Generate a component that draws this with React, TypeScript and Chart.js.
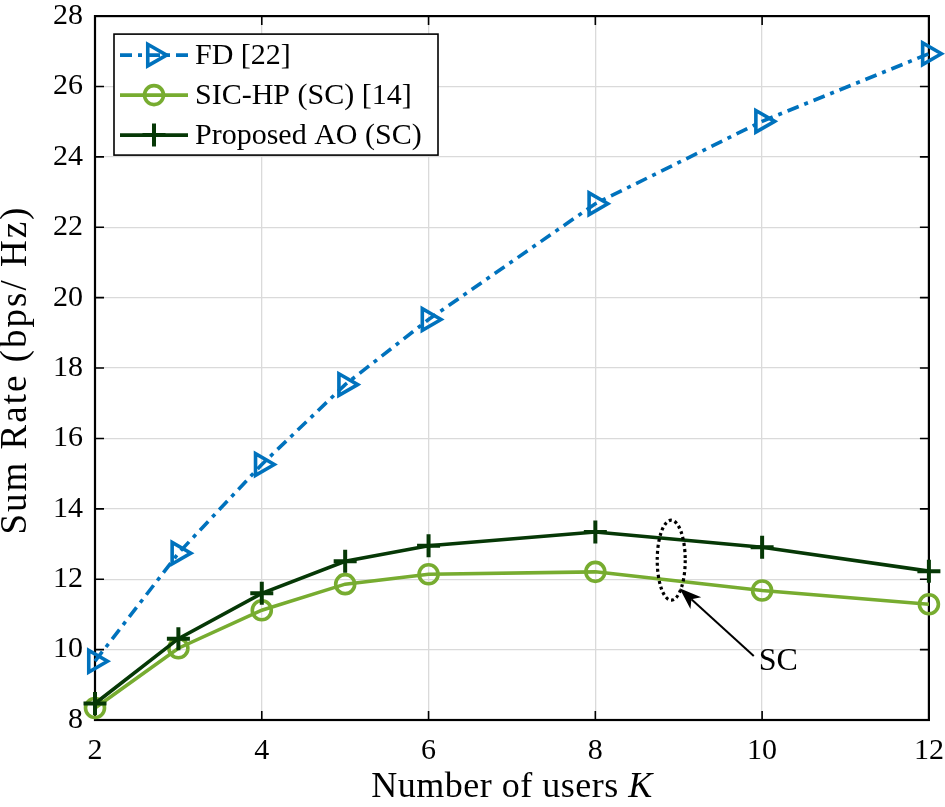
import React, { useEffect, useRef } from 'react';
import { Chart, registerables } from 'chart.js';
import { drawPoint } from 'chart.js/helpers';

Chart.register(...registerables);

// ---------- data ----------
const USERS = [2, 3, 4, 5, 6, 8, 10, 12];
const FD = [9.67, 12.74, 15.26, 17.53, 19.38, 22.67, 25.01, 26.93];
const SIC_HP = [8.34, 10.04, 11.12, 11.86, 12.14, 12.21, 11.68, 11.29];
const PROPOSED = [8.47, 10.31, 11.6, 12.51, 12.95, 13.34, 12.91, 12.23];

const SERIES_LABELS = ['FD [22]', 'SIC-HP (SC) [14]', 'Proposed AO (SC)'];
const X_TICKS = [2, 4, 6, 8, 10, 12];
const Y_TICKS = [8, 10, 12, 14, 16, 18, 20, 22, 24, 26, 28];
const X_TITLE = 'Number of users ';
const X_TITLE_VAR = 'K';
const Y_TITLE = 'Sum Rate (bps/ Hz)';

const ANNOT_LABEL = 'SC';
const ANNOT_ELLIPSE_CENTER = [8.91, 12.54];
const ANNOT_ARROW_FROM = [9.9, 9.82];
const ANNOT_ARROW_TO = [9.01, 11.74];
const ANNOT_TEXT_POS = [9.96, 9.65];

// ---------- styles ----------
const FONT = '"Liberation Serif", "Times New Roman", serif';
const C_FD = '#0072BD';
const C_SIC = '#77AC30';
const C_PROP = '#063806';

const toPts = (ys: number[]) => USERS.map((x, i) => ({ x, y: ys[i] }));

const framePlugin = {
  id: 'matlabFrame',
  beforeDatasetsDraw(chart: any) {
    const { ctx, chartArea: a, scales } = chart;
    const L = 9;
    ctx.save();
    ctx.strokeStyle = '#000';
    ctx.lineWidth = 1.6;
    ctx.beginPath();
    scales.x.ticks.forEach((t: any) => {
      const px = scales.x.getPixelForValue(t.value);
      ctx.moveTo(px, a.bottom);
      ctx.lineTo(px, a.bottom - L);
      ctx.moveTo(px, a.top);
      ctx.lineTo(px, a.top + L);
    });
    scales.y.ticks.forEach((t: any) => {
      const py = scales.y.getPixelForValue(t.value);
      ctx.moveTo(a.left, py);
      ctx.lineTo(a.left + L, py);
      ctx.moveTo(a.right, py);
      ctx.lineTo(a.right - L, py);
    });
    ctx.stroke();
    ctx.lineWidth = 2.2;
    ctx.strokeRect(a.left, a.top, a.right - a.left, a.bottom - a.top);
    ctx.restore();
  },
};

const titlesPlugin = {
  id: 'axisTitles',
  afterDraw(chart: any) {
    const { ctx, chartArea: a } = chart;
    ctx.save();
    ctx.fillStyle = '#000';
    (ctx as any).letterSpacing = '0.5px';
    ctx.textBaseline = 'alphabetic';
    ctx.textAlign = 'left';
    ctx.font = `36px ${FONT}`;
    const w1 = ctx.measureText(X_TITLE).width;
    ctx.font = `italic 36px ${FONT}`;
    const w2 = ctx.measureText(X_TITLE_VAR).width;
    const cx = (a.left + a.right) / 2;
    const sx = cx - (w1 + w2) / 2;
    ctx.font = `36px ${FONT}`;
    ctx.fillText(X_TITLE, sx, 797);
    ctx.font = `italic 36px ${FONT}`;
    ctx.fillText(X_TITLE_VAR, sx + w1, 797);
    (ctx as any).letterSpacing = '2px';
    ctx.font = `37px ${FONT}`;
    ctx.translate(26, (a.top + a.bottom) / 2 + 2);
    ctx.rotate(-Math.PI / 2);
    ctx.textAlign = 'center';
    ctx.fillText(Y_TITLE, 0, 0);
    (ctx as any).letterSpacing = '0px';
    ctx.restore();
  },
};

const annotationPlugin = {
  id: 'scAnnotation',
  afterDatasetsDraw(chart: any) {
    const { ctx, scales } = chart;
    const px = (v: number) => scales.x.getPixelForValue(v);
    const py = (v: number) => scales.y.getPixelForValue(v);
    ctx.save();
    ctx.strokeStyle = '#000';
    ctx.lineWidth = 3.2;
    ctx.setLineDash([3, 3]);
    ctx.beginPath();
    ctx.ellipse(px(ANNOT_ELLIPSE_CENTER[0]), py(ANNOT_ELLIPSE_CENTER[1]), 14, 40, 0, 0, Math.PI * 2);
    ctx.stroke();
    ctx.setLineDash([]);
    const tx = px(ANNOT_ARROW_FROM[0]), ty = py(ANNOT_ARROW_FROM[1]);
    const hx = px(ANNOT_ARROW_TO[0]), hy = py(ANNOT_ARROW_TO[1]);
    const ang = Math.atan2(hy - ty, hx - tx);
    const len = 22, hw = 8;
    const bx = hx - len * Math.cos(ang), by = hy - len * Math.sin(ang);
    ctx.lineWidth = 2;
    ctx.beginPath();
    ctx.moveTo(tx, ty);
    ctx.lineTo(bx + 6 * Math.cos(ang), by + 6 * Math.sin(ang));
    ctx.stroke();
    ctx.fillStyle = '#000';
    ctx.beginPath();
    ctx.moveTo(hx, hy);
    ctx.lineTo(bx - hw * Math.sin(ang), by + hw * Math.cos(ang));
    ctx.lineTo(bx + 6 * Math.cos(ang), by + 6 * Math.sin(ang));
    ctx.lineTo(bx + hw * Math.sin(ang), by - hw * Math.cos(ang));
    ctx.closePath();
    ctx.fill();
    ctx.font = `32px ${FONT}`;
    ctx.textAlign = 'left';
    ctx.textBaseline = 'middle';
    ctx.fillText(ANNOT_LABEL, px(ANNOT_TEXT_POS[0]), py(ANNOT_TEXT_POS[1]));
    ctx.restore();
  },
};

const legendPlugin = {
  id: 'boxLegend',
  afterDraw(chart: any) {
    const { ctx, chartArea: a } = chart;
    const left = a.left + 19, top = a.top + 18, w = 324, h = 121, rowH = 40;
    ctx.save();
    ctx.fillStyle = '#fff';
    ctx.fillRect(left, top, w, h);
    ctx.strokeStyle = '#000';
    ctx.lineWidth = 1.6;
    ctx.strokeRect(left, top, w, h);
    chart.data.datasets.forEach((ds: any, i: number) => {
      const cy = top + 21 + i * rowH;
      ctx.strokeStyle = ds.borderColor;
      ctx.lineWidth = ds.borderWidth;
      ctx.setLineDash(ds.borderDash || []);
      ctx.beginPath();
      ctx.moveTo(left + 6, cy);
      ctx.lineTo(left + 74, cy);
      ctx.stroke();
      ctx.setLineDash([]);
      ctx.fillStyle = 'rgba(0,0,0,0)';
      ctx.strokeStyle = ds.pointBorderColor;
      ctx.lineWidth = ds.pointBorderWidth;
      drawPoint(ctx, {
        pointStyle: ds.pointStyle,
        rotation: ds.pointRotation || 0,
        radius: ds.pointRadius,
        borderWidth: ds.pointBorderWidth,
      } as any, left + 40, cy);
      ctx.fillStyle = '#000';
      ctx.font = `30px ${FONT}`;
      ctx.textAlign = 'left';
      ctx.textBaseline = 'middle';
      ctx.fillText(ds.label, left + 81, cy + 1);
    });
    ctx.restore();
  },
};

export default function App() {
  const ref = useRef<HTMLCanvasElement | null>(null);

  useEffect(() => {
    if (!ref.current) return;
    const tickFont = { family: FONT, size: 30 };
    const chart = new Chart(ref.current, {
      type: 'line',
      data: {
        datasets: [
          {
            label: SERIES_LABELS[0],
            data: toPts(FD),
            borderColor: C_FD,
            borderWidth: 3.6,
            borderDash: [12, 6, 4, 6],
            pointStyle: 'triangle',
            pointRotation: 90,
            pointRadius: 12.5,
            pointBorderWidth: 3.6,
            pointBorderColor: C_FD,
            pointBackgroundColor: 'rgba(0,0,0,0)',
            clip: false,
            order: 3,
          } as any,
          {
            label: SERIES_LABELS[1],
            data: toPts(SIC_HP),
            borderColor: C_SIC,
            borderWidth: 3.6,
            pointStyle: 'circle',
            pointRadius: 9.5,
            pointBorderWidth: 3.6,
            pointBorderColor: C_SIC,
            pointBackgroundColor: 'rgba(0,0,0,0)',
            clip: false,
            order: 2,
          },
          {
            label: SERIES_LABELS[2],
            data: toPts(PROPOSED),
            borderColor: C_PROP,
            borderWidth: 3.6,
            pointStyle: 'cross',
            pointRadius: 11.5,
            pointBorderWidth: 4,
            pointBorderColor: C_PROP,
            pointBackgroundColor: 'rgba(0,0,0,0)',
            clip: false,
            order: 1,
          },
        ],
      },
      options: {
        responsive: false,
        animation: false,
        devicePixelRatio: 1,
        layout: { padding: { left: 0, top: 14, right: 15, bottom: 0 } },
        plugins: { legend: { display: false }, tooltip: { enabled: false } },
        scales: {
          x: {
            type: 'linear',
            min: 2,
            max: 12,
            afterBuildTicks: (s: any) => { s.ticks = X_TICKS.map((v) => ({ value: v })); },
            afterFit: (s: any) => { s.height = 87; s.paddingLeft = 0; s.paddingRight = 0; },
            grid: { color: '#dadada', lineWidth: 1.3, drawTicks: false },
            border: { display: false },
            ticks: { font: tickFont, color: '#000', padding: 13, maxRotation: 0, autoSkip: false },
          },
          y: {
            type: 'linear',
            min: 8,
            max: 28,
            afterBuildTicks: (s: any) => { s.ticks = Y_TICKS.map((v) => ({ value: v })); },
            afterFit: (s: any) => { s.width = 95; s.paddingTop = 0; s.paddingBottom = 0; },
            grid: { color: '#dadada', lineWidth: 1.3, drawTicks: false },
            border: { display: false },
            ticks: { font: tickFont, color: '#000', padding: 12, autoSkip: false },
          },
        },
      },
      plugins: [framePlugin, annotationPlugin, legendPlugin, titlesPlugin],
    });
    return () => chart.destroy();
  }, []);

  return (
    <div style={{ position: 'fixed', left: 0, top: 0, width: 945, height: 807, background: '#fff' }}>
      <canvas ref={ref} width={945} height={807} style={{ width: 945, height: 807, display: 'block' }} />
    </div>
  );
}
